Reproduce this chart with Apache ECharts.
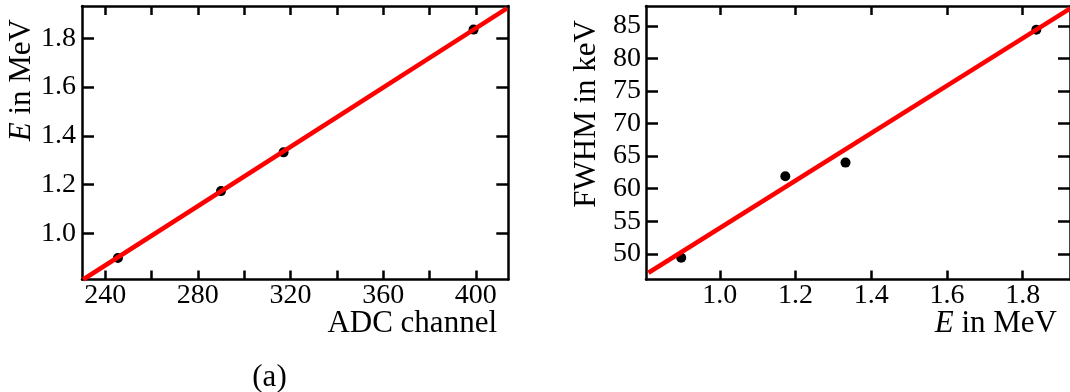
<!DOCTYPE html>
<html><head><meta charset="utf-8">
<script src="https://cdn.jsdelivr.net/npm/echarts@6/dist/echarts.min.js"></script>
<style>html,body{margin:0;padding:0;background:#fff}#c{width:1070px;height:392px}</style>
</head><body><div id="c"></div>
<script>
// ---- data ----
const adcChannel = [245.5, 290, 317, 399];
const energyA   = [0.898, 1.173, 1.332, 1.836];
const fitA      = [[230.5, 0.81], [413.4, 1.923]];   // fitted line end points
const energyB   = [0.898, 1.173, 1.332, 1.836];
const fwhmB     = [49.4, 61.9, 64.0, 84.4];
const fitB      = [[0.8115, 47.09], [1.926, 87.69]];  // fitted line end points
// ---- ticks ----
const xTicksA  = [240, 260, 280, 300, 320, 340, 360, 380, 400];
const xLabelsA = [240, 280, 320, 360, 400];
const yTicksA  = [1.0, 1.2, 1.4, 1.6, 1.8];
const xTicksB  = [1.0, 1.2, 1.4, 1.6, 1.8];
const yTicksB  = [50, 55, 60, 65, 70, 75, 80, 85];

const FONT = "'Liberation Serif','Times New Roman',serif";
const chart = echarts.init(document.getElementById('c'), null, {renderer: 'canvas'});

function axis(gridIndex, position, min, max, ticks, labels, fmt, tickLen, margin) {
  return {
    type: 'value', gridIndex, position, min, max,
    axisLine: {show: true, onZero: false, lineStyle: {color: '#000', width: 2.5}},
    axisTick: {show: true, inside: true, length: tickLen, customValues: ticks,
               lineStyle: {color: '#000', width: 2.5}},
    axisLabel: labels ? {show: true, customValues: labels, color: '#000', fontFamily: FONT,
               fontSize: 28, margin, formatter: fmt} : {show: false},
    splitLine: {show: false}
  };
}
const f1 = v => Number(v).toFixed(1);
const f0 = v => String(Math.round(v));

const option = {
  animation: false,
  backgroundColor: '#fff',
  grid: [
    {left: 82, top: 6, width: 426.3, height: 273.5},
    {left: 646, top: 6, width: 426.3, height: 273.5}
  ],
  xAxis: [
    axis(0, 'bottom', 230, 414, xTicksA, xLabelsA, f0, 9, 2),
    axis(0, 'top', 230, 414, xTicksA, null, null, 9, 0),
    axis(1, 'bottom', 0.805, 1.925, xTicksB, xTicksB, f1, 9, 2),
    axis(1, 'top', 0.805, 1.925, xTicksB, null, null, 9, 0)
  ],
  yAxis: [
    axis(0, 'left', 0.81, 1.933, yTicksA, yTicksA, f1, 12, 6),
    axis(0, 'right', 0.81, 1.933, yTicksA, null, null, 12, 0),
    axis(1, 'left', 46.05, 88.05, yTicksB, yTicksB, f0, 12, 5),
    axis(1, 'right', 46.05, 88.05, yTicksB, null, null, 12, 0)
  ],
  series: [
    {type: 'scatter', xAxisIndex: 0, yAxisIndex: 0, symbolSize: 10, z: 2,
     itemStyle: {color: '#000', opacity: 1}, data: adcChannel.map((x, i) => [x, energyA[i]])},
    {type: 'line', xAxisIndex: 0, yAxisIndex: 0, showSymbol: false, symbol: 'none', z: 3, clip: true,
     lineStyle: {color: '#ff0000', width: 4.5}, data: fitA},
    {type: 'scatter', xAxisIndex: 2, yAxisIndex: 2, symbolSize: 10, z: 2,
     itemStyle: {color: '#000', opacity: 1}, data: energyB.map((x, i) => [x, fwhmB[i]])},
    {type: 'line', xAxisIndex: 2, yAxisIndex: 2, showSymbol: false, symbol: 'none', z: 3, clip: true,
     lineStyle: {color: '#ff0000', width: 4.5}, data: fitB}
  ],
  graphic: [
    {type: 'text', x: 22, y: 19, rotation: Math.PI / 2,
     style: {text: '{i|E}{n| in MeV}', align: 'right', verticalAlign: 'middle', fill: '#000',
             fontSize: 31, fontFamily: FONT,
             rich: {i: {fontStyle: 'italic', fontSize: 31, fontFamily: FONT, fill: '#000'},
                    n: {fontSize: 31, fontFamily: FONT, fill: '#000'}}}},
    {type: 'text', x: 497, y: 324,
     style: {text: 'ADC channel', align: 'right', verticalAlign: 'middle', fill: '#000',
             fontSize: 31, fontFamily: FONT}},
    {type: 'text', x: 587, y: 20, rotation: Math.PI / 2,
     style: {text: 'FWHM in keV', align: 'right', verticalAlign: 'middle', fill: '#000',
             fontSize: 31, fontFamily: FONT}},
    {type: 'text', x: 1057, y: 324,
     style: {text: '{i|E}{n| in MeV}', align: 'right', verticalAlign: 'middle', fill: '#000',
             fontSize: 31, fontFamily: FONT,
             rich: {i: {fontStyle: 'italic', fontSize: 31, fontFamily: FONT, fill: '#000'},
                    n: {fontSize: 31, fontFamily: FONT, fill: '#000'}}}},
    {type: 'text', x: 269.5, y: 378,
     style: {text: '(a)', align: 'center', verticalAlign: 'middle', fill: '#000',
             fontSize: 31, fontFamily: FONT}}
  ]
};
chart.setOption(option);
</script>
</body></html>
